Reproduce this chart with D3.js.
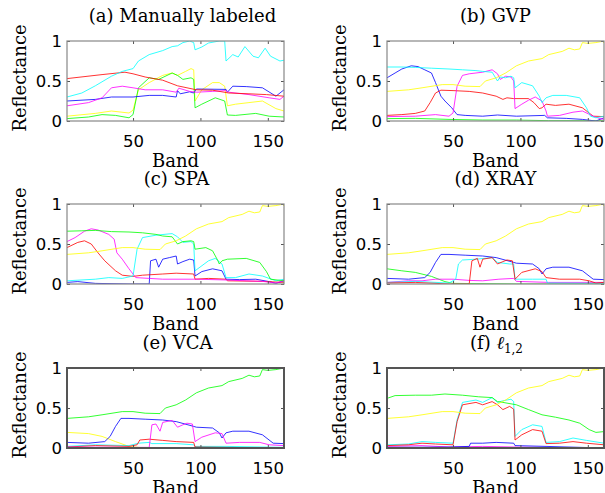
<!DOCTYPE html>
<html>
<head>
<meta charset="utf-8">
<script src="https://cdn.jsdelivr.net/npm/d3@7"></script>
<style>
body { margin: 0; background: #fff; }
svg { display: block; }
.tick text { font-family: 'DejaVu Sans', sans-serif; font-size: 16.5px; fill: #000; }
.tick line { stroke: #555; }
.lbl { font-family: 'DejaVu Serif', serif; font-size: 18px; fill: #000; }
</style>
</head>
<body>
<svg id="chart" width="605" height="493"></svg>
<script>
var BAND_TICKS = [50, 100, 150];
var REFL_TICKS = [0, 0.5, 1];
var BAND_RANGE = [1, 162];

// [band, reflectance] pairs
// (a) manually labeled
var aCyan = [[1,.30],[12,.35],[22,.44],[34,.56],[42,.62],[50,.655],[54,.75],[62,.83],[72,.88],[79,.93],[83,.94],[87,.98],[92,1],[95,.98],[96,.89],[101,.925],[106,.975],[114,1],[118,1],[119,.75],[124,.83],[128,.80],[133,.93],[139,.81],[143,.79],[148,.91],[152,.81],[159,.75],[162,.76]];
var aRed = [[1,.53],[27,.58],[44,.61],[50,.59],[59,.55],[72,.51],[83,.44],[97,.39],[109,.385],[121,.35],[136,.34],[149,.33],[162,.31]];
var aMagenta = [[1,.19],[17,.23],[27,.29],[34,.415],[42,.435],[50,.415],[59,.39],[72,.39],[82,.36],[84,.41],[92,.37],[97,.36],[109,.37],[119,.38],[121,.36],[136,.33],[151,.29],[159,.27],[162,.31]];
var aBlue = [[1,.25],[22,.27],[34,.30],[50,.30],[62,.32],[72,.32],[82,.30],[83,.38],[85,.34],[92,.365],[95,.35],[97,.40],[119,.395],[120,.36],[124,.435],[134,.43],[146,.415],[156,.31],[162,.39]];
var aYellow = [[1,.06],[22,.095],[34,.125],[47,.10],[50,.135],[54,.39],[62,.48],[72,.57],[79,.60],[83,.57],[89,.62],[93,.655],[95,.64],[96,.25],[101,.39],[109,.48],[114,.48],[118,.435],[120,.19],[126,.21],[136,.23],[146,.25],[156,.155],[162,.125]];
var aGreen = [[1,.03],[17,.05],[27,.08],[37,.07],[47,.04],[50,.08],[54,.415],[62,.54],[69,.52],[79,.60],[83,.57],[87,.52],[93,.54],[95,.52],[96,.165],[101,.21],[111,.29],[118,.25],[120,.075],[126,.07],[141,.095],[151,.06],[162,.05]];

// spectrum that shows up in (b), (c), (d), (f) in yellow and in (e) in green
var brightSpectrum = [[1,.37],[17,.39],[27,.415],[42,.455],[50,.455],[59,.435],[70,.43],[74,.50],[82,.54],[89,.60],[97,.69],[106,.75],[116,.78],[121,.83],[131,.87],[136,.91],[140,.89],[144,.90],[146,.98],[150,.97],[156,.98],[161,.996],[162,.975]];

// (b) GVP
var bCyan = [[1,.675],[12,.675],[22,.67],[34,.66],[47,.65],[57,.64],[67,.63],[72,.62],[79,.61],[83,.50],[85,.55],[89,.54],[93,.56],[95,.54],[96,.415],[101,.48],[109,.44],[114,.31],[116,.23],[119,.29],[124,.32],[134,.32],[144,.29],[149,.165],[152,.06],[156,.04],[162,.06]];
var bBlue = [[1,.54],[7,.60],[12,.65],[19,.69],[24,.68],[29,.64],[34,.60],[37,.48],[41,.31],[44,.25],[49,.165],[53,.08],[59,.07],[72,.06],[83,.075],[97,.06],[118,.07],[120,.04],[134,.033],[146,.02],[156,0],[162,.04]];
var bRed = [[1,.07],[12,.08],[22,.095],[29,.125],[33,.23],[37,.35],[41,.385],[50,.38],[62,.37],[72,.35],[82,.31],[87,.27],[90,.29],[95,.28],[106,.28],[110,.23],[114,.155],[116,.165],[119,.21],[126,.195],[136,.21],[146,.165],[154,.06],[162,.055]];
var bMagenta = [[1,.055],[22,.06],[37,.08],[47,.06],[50,.10],[53,.435],[57,.57],[62,.59],[72,.61],[79,.64],[83,.59],[85,.52],[89,.56],[93,.55],[95,.50],[96,.155],[101,.21],[106,.26],[111,.30],[116,.25],[119,.125],[120,.06],[129,.07],[139,.11],[146,.125],[154,.06],[159,.03],[162,.02]];
var bGreen = [[1,.03],[22,.033],[47,.02],[72,.012],[97,.012],[121,.004],[162,.004]];

// (c) SPA
var cGreen = [[1,.66],[12,.665],[22,.67],[34,.655],[47,.65],[57,.64],[67,.62],[72,.60],[79,.59],[83,.50],[87,.53],[93,.54],[95,.53],[96,.435],[104,.455],[109,.415],[113,.29],[114,.25],[116,.29],[120,.31],[134,.32],[144,.27],[149,.155],[152,.06],[162,.04]];
var cMagenta = [[1,.53],[7,.58],[14,.66],[19,.69],[24,.675],[32,.62],[36,.56],[38,.39],[42,.31],[47,.19],[52,.08],[62,.07],[72,.06],[97,.06],[120,.05],[134,.04],[146,.033],[156,.012],[162,.04]];
var cRed = [[1,.455],[9,.52],[14,.54],[19,.50],[24,.39],[29,.29],[37,.165],[42,.11],[50,.095],[57,.11],[72,.125],[82,.135],[95,.125],[96,.06],[106,.07],[119,.06],[120,.04],[146,.033],[162,.02]];
var cCyan = [[1,.04],[22,.06],[32,.08],[42,.07],[50,.10],[53,.435],[57,.58],[67,.61],[79,.63],[83,.59],[87,.52],[93,.53],[95,.50],[96,.165],[106,.29],[111,.32],[116,.25],[119,.08],[126,.08],[136,.125],[146,.10],[156,.04],[162,.06]];
var cBlue = [[1,.02],[9,.03],[22,.008],[47,0],[62,0],[63,.29],[67,.31],[69,.21],[72,.31],[77,.33],[82,.35],[83,.25],[87,.28],[92,.31],[95,.30],[96,.10],[101,.155],[109,.19],[116,.165],[119,.06],[129,.055],[141,.06],[151,.03],[156,.008],[162,.04]];

// (d) XRAY
var dBlue = [[1,.07],[17,.06],[29,.08],[33,.145],[37,.27],[41,.37],[47,.37],[59,.36],[72,.35],[82,.33],[95,.27],[97,.26],[109,.25],[114,.19],[116,.125],[119,.19],[124,.21],[136,.21],[146,.165],[154,.06],[162,.055]];
var dGreen = [[1,.19],[12,.165],[22,.145],[34,.095],[44,.03],[50,.008],[97,0],[162,0]];
var dMagenta = [[1,.02],[17,.04],[27,.04],[37,.06],[50,.06],[62,.045],[72,.04],[84,.06],[95,.07],[97,.033],[121,.02],[162,.02]];
var dCyan = [[1,.02],[22,.033],[47,.012],[52,.06],[54,.25],[57,.30],[67,.31],[79,.33],[83,.27],[92,.25],[95,.25],[96,.06],[109,.06],[119,.06],[120,.012],[162,.008]];
var dRed = [[1,.012],[22,.02],[47,0],[62,0],[64,.29],[68,.32],[70,.21],[72,.31],[79,.33],[83,.25],[87,.28],[90,.30],[94,.29],[96,.06],[101,.145],[111,.19],[116,.155],[119,.08],[129,.06],[144,.06],[151,.04],[156,.012],[162,.02]];

// (e) VCA
var eYellow = [[1,.195],[17,.18],[27,.145],[37,.08],[47,.02],[59,0],[162,0]];
var eMagenta = [[1,.012],[47,.008],[62,.008],[64,.29],[67,.30],[70,.21],[72,.32],[79,.345],[83,.26],[87,.29],[90,.31],[94,.30],[96,.08],[101,.135],[111,.19],[116,.18],[119,.06],[129,.07],[144,.07],[151,.04],[162,.03]];
var eRed = [[1,.012],[22,.03],[47,.02],[53,.04],[55,.10],[62,.11],[72,.095],[82,.08],[95,.07],[96,.012],[162,0]];
var eCyan = [[1,.02],[22,.04],[47,.03],[54,.06],[62,.07],[64,.055],[82,.055],[95,.04],[96,.02],[119,.02],[162,.008]];

// (f) l_{1,2}
var fGreen = [[1,.62],[7,.655],[22,.66],[34,.66],[44,.675],[57,.66],[69,.64],[79,.63],[83,.58],[87,.57],[97,.54],[106,.48],[116,.415],[126,.385],[136,.35],[144,.31],[151,.23],[156,.195],[162,.205]];
var fCyan = [[1,.04],[17,.05],[27,.08],[37,.07],[50,.06],[53,.35],[57,.57],[67,.60],[72,.57],[79,.63],[83,.57],[87,.59],[93,.61],[95,.58],[96,.145],[101,.23],[109,.29],[116,.27],[119,.07],[129,.08],[139,.125],[149,.095],[162,.06]];
var fRed = [[1,.03],[17,.04],[27,.06],[37,.05],[50,.04],[53,.33],[57,.54],[67,.57],[72,.54],[79,.58],[83,.54],[87,.48],[92,.52],[95,.485],[96,.10],[101,.165],[109,.23],[116,.21],[119,.055],[129,.06],[139,.08],[149,.06],[162,.04]];
var fBlue = [[1,.008],[47,.012],[62,.02],[63,.06],[72,.06],[82,.07],[95,.06],[96,.03],[119,.02],[162,0]];
var fMagenta = [[1,.02],[27,.03],[47,.012],[72,.02],[97,.012],[162,0]];

var C = { c: '#00ffff', r: '#ff0000', m: '#ff00ff', b: '#0000ff', y: '#ffff00', g: '#00ff00' };

var panels = [
	{ tag: '(a) ', name: 'Manually labeled', dx: 7,
		lines: [[aYellow, 'y'], [aGreen, 'g'], [aBlue, 'b'], [aMagenta, 'm'], [aRed, 'r'], [aCyan, 'c']] },
	{ tag: '(b) ', name: 'GVP', dx: 0,
		lines: [[bGreen, 'g'], [bBlue, 'b'], [bRed, 'r'], [bMagenta, 'm'], [bCyan, 'c'], [brightSpectrum, 'y']] },
	{ tag: '(c) ', name: 'SPA', dx: 1,
		lines: [[cBlue, 'b'], [cRed, 'r'], [cMagenta, 'm'], [cCyan, 'c'], [cGreen, 'g'], [brightSpectrum, 'y']] },
	{ tag: '(d) ', name: 'XRAY', dx: 0,
		lines: [[dGreen, 'g'], [dMagenta, 'm'], [dCyan, 'c'], [dBlue, 'b'], [dRed, 'r'], [brightSpectrum, 'y']] },
	{ tag: '(e) ', name: 'VCA', dx: 2,
		lines: [[eYellow, 'y'], [eCyan, 'c'], [eRed, 'r'], [dBlue, 'b'], [eMagenta, 'm'], [brightSpectrum, 'g']] },
	{ tag: '(f) ', name: 'l12', dx: 1,
		lines: [[fMagenta, 'm'], [fBlue, 'b'], [fCyan, 'c'], [fRed, 'r'], [fGreen, 'g'], [brightSpectrum, 'y']] }
];

var COL_X = [67, 387],
	ROW_Y = [41, 204, 368],
	width = 217,
	height = 80;

var svg = d3.select('#chart');

var x = d3.scaleLinear().domain(BAND_RANGE).range([ 0, width ]);
var y = d3.scaleLinear().domain([ 0, 1 ]).range([ height, 0 ]);

var line = d3
	.line()
	.x(function(d) {
		return x(d[0]);
	})
	.y(function(d) {
		return y(d[1]);
	});

svg
	.append('defs')
	.append('clipPath')
	.attr('id', 'box')
	.append('rect')
	.attr('width', width)
	.attr('height', height);

panels.forEach(function(p, i) {
	var col = i % 2,
		row = Math.floor(i / 2);
	var g = svg.append('g').attr('transform', 'translate(' + COL_X[col] + ',' + ROW_Y[row] + ')');

	var plot = g.append('g').attr('clip-path', 'url(#box)');
	p.lines.forEach(function(l) {
		plot
			.append('path')
			.datum(l[0])
			.attr('d', line)
			.attr('fill', 'none')
			.attr('stroke', C[l[1]])
			.attr('stroke-width', 1)
			.attr('stroke-opacity', 0.8);
	});

	var fmt = function(d) {
		return String(d);
	};

	g.append('g').attr('transform', 'translate(0,' + height + ')').call(
		d3.axisBottom(x).tickValues(BAND_TICKS).tickSizeInner(-3).tickSizeOuter(0).tickPadding(14)
	);
	g.append('g').call(d3.axisTop(x).tickValues(BAND_TICKS).tickSizeInner(-3).tickSizeOuter(0).tickFormat(''));
	g.append('g').call(
		d3.axisLeft(y).tickValues(REFL_TICKS).tickSizeInner(-3).tickSizeOuter(0).tickPadding(5).tickFormat(fmt)
	);
	g
		.append('g')
		.attr('transform', 'translate(' + width + ',0)')
		.call(d3.axisRight(y).tickValues(REFL_TICKS).tickSizeInner(-3).tickSizeOuter(0).tickFormat(''));
	g.selectAll('.domain').remove();

	g
		.append('rect')
		.attr('width', width)
		.attr('height', height)
		.attr('fill', 'none')
		.attr('stroke', row == 2 ? '#555' : '#888')
		.attr('stroke-width', row == 2 ? 2 : 1.2);

	var title = g
		.append('text')
		.attr('class', 'lbl')
		.attr('x', width / 2 + p.dx)
		.attr('y', -19)
		.attr('text-anchor', 'middle')
		.text(p.tag);
	if (p.name == 'l12') {
		title.append('tspan').style('font-style', 'italic').text('\u2113');
		title.append('tspan').attr('dy', 4).style('font-size', '12px').text('1,2');
	} else {
		title.append('tspan').text(p.name);
	}

	g
		.append('text')
		.attr('class', 'lbl')
		.attr('transform', 'translate(-47,' + (height / 2 - 3) + ') rotate(-90)')
		.attr('text-anchor', 'middle')
		.attr('dy', '0.35em')
		.text('Reflectance');

	g
		.append('text')
		.attr('class', 'lbl')
		.attr('x', width / 2)
		.attr('y', height + 46)
		.attr('text-anchor', 'middle')
		.text('Band');
});
</script>
</body>
</html>
